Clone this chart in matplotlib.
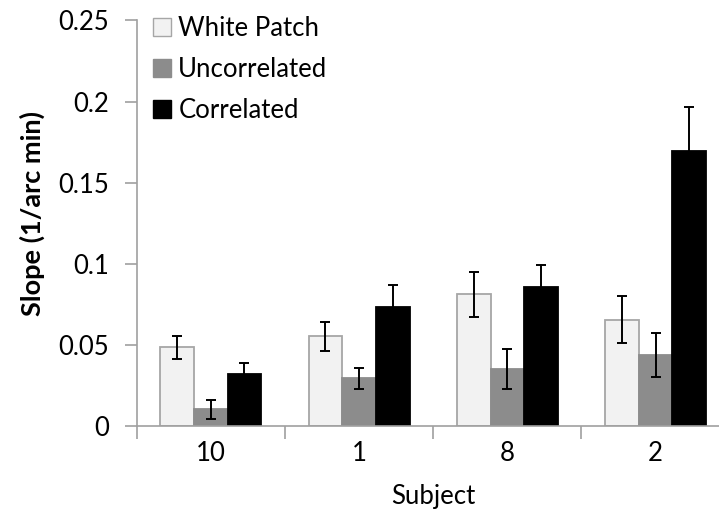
import numpy as np
import matplotlib.pyplot as plt
from matplotlib.patches import Patch

plt.rcParams['font.family'] = ['Lato', 'DejaVu Sans']

subjects = ['10', '1', '8', '2']
series = ['White Patch', 'Uncorrelated', 'Correlated']

white_patch = [0.0486, 0.0552, 0.0811, 0.0655]
uncorrelated = [0.0103, 0.0294, 0.0351, 0.0439]
correlated = [0.0320, 0.0733, 0.0858, 0.1698]

white_patch_err = [0.0070, 0.0092, 0.0140, 0.0145]
uncorrelated_err = [0.0057, 0.0065, 0.0123, 0.0136]
correlated_err = [0.0066, 0.0135, 0.0134, 0.0267]

values = [white_patch, uncorrelated, correlated]
errors = [white_patch_err, uncorrelated_err, correlated_err]
fills = ['#f2f2f2', '#8c8c8c', '#000000']
edges = ['#a6a6a6', '#8c8c8c', '#000000']

axis_gray = '#a0a0a0'
fs = 18.5

fig = plt.figure(figsize=(7.19, 5.12), dpi=100)
ax = fig.add_axes([0.190, 0.168, 0.825, 0.792])

x = np.arange(len(subjects))
w = 0.227
for i, (vals, errs) in enumerate(zip(values, errors)):
    pos = x + (i - 1) * w
    ax.bar(pos, vals, width=w, color=fills[i], edgecolor=edges[i],
           linewidth=1.3, zorder=2)
    ax.errorbar(pos, vals, yerr=errs, fmt='none', ecolor='black',
                elinewidth=1.4, capsize=3.5, capthick=1.4, zorder=3)

ax.set_xlim(-0.5, len(subjects) - 0.5)
ax.set_ylim(0, 0.25)
ax.set_yticks([0, 0.05, 0.1, 0.15, 0.2, 0.25])
ax.set_yticklabels(['0', '0.05', '0.1', '0.15', '0.2', '0.25'])
ax.set_xticks(x)
ax.set_xticklabels(subjects)
ax.set_xticks(np.arange(-0.5, len(subjects)), minor=True)

ax.tick_params(axis='x', which='major', length=0, pad=11, labelsize=fs)
ax.tick_params(axis='x', which='minor', length=9, color=axis_gray, width=1.2)
ax.tick_params(axis='y', length=9, color=axis_gray, width=1.2, pad=11,
               labelsize=fs)

for side in ['top', 'right']:
    ax.spines[side].set_visible(False)
for side in ['left', 'bottom']:
    ax.spines[side].set_color(axis_gray)
    ax.spines[side].set_linewidth(1.2)

ax.set_xlabel('Subject', fontsize=fs, labelpad=13)
ax.set_ylabel('Slope (1/arc min)', fontsize=19.5, fontweight='bold', labelpad=9)
ax.yaxis.label.set_y(0.525)

handles = [Patch(facecolor=fills[i], edgecolor=edges[i], linewidth=1.0)
           for i in range(3)]
ax.legend(handles, series, loc='upper left', bbox_to_anchor=(0.027, 1.010),
          frameon=False, fontsize=fs, handlelength=0.7, handleheight=0.7,
          handletextpad=0.3, labelspacing=0.62, borderaxespad=0,
          borderpad=0)

fig.savefig('out.png', dpi=100)
